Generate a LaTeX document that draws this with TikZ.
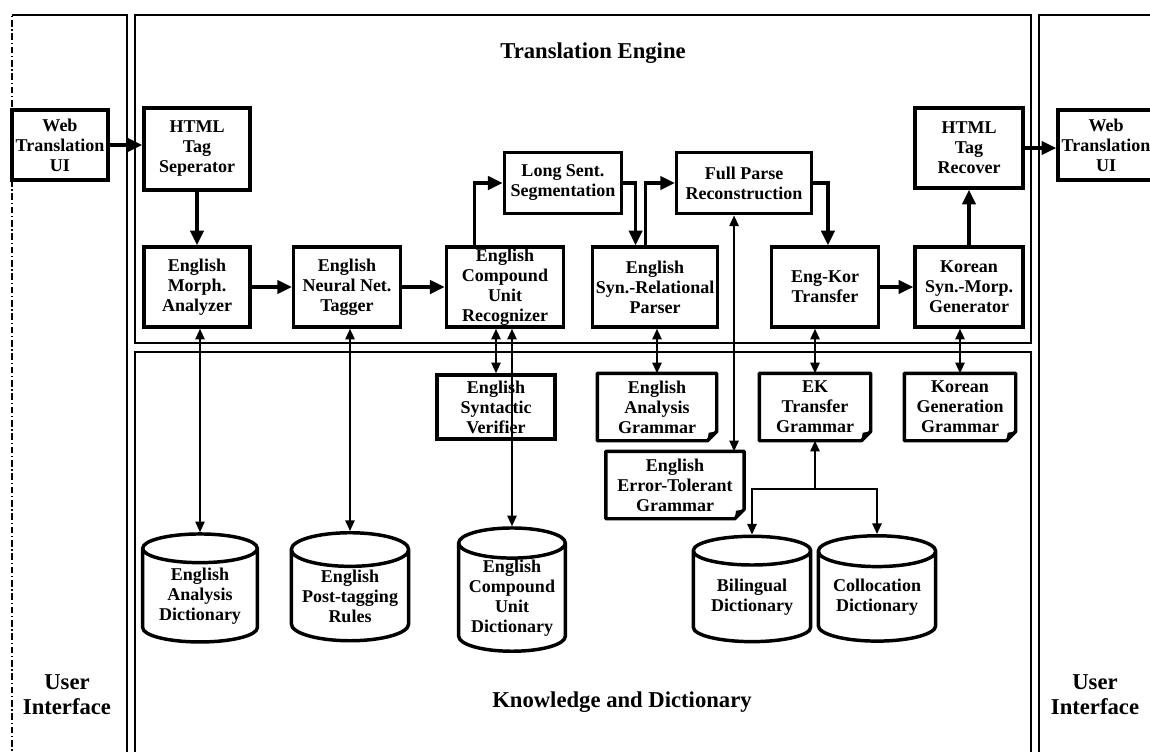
\documentclass[tikz,border=0pt]{standalone}
\usepackage{fontspec}
\setmainfont{Liberation Serif}
\usetikzlibrary{shapes.geometric,arrows.meta,calc}

\tikzset{
  doc/.style={draw=none,append after command={\pgfextra{%
    \draw[line width=2.6pt,line join=round]
      (\tikzlastnode.north west) -- (\tikzlastnode.north east)
      -- ([yshift=7pt]\tikzlastnode.south east)
      -- ([xshift=-7pt]\tikzlastnode.south east)
      -- (\tikzlastnode.south west) -- cycle;
    \fill ([yshift=7pt]\tikzlastnode.south east) -- ([xshift=-7pt]\tikzlastnode.south east)
      -- ([xshift=-6pt,yshift=6pt]\tikzlastnode.south east) -- cycle;}}}
}

\begin{document}
\begin{tikzpicture}[x=0.75pt,y=-0.75pt,
    box/.style={draw,line width=2.6pt,rectangle,inner sep=0pt,align=center,
      font=\fontsize{13.5}{15}\selectfont\bfseries},
    sz/.style 2 args={minimum width=#1pt,minimum height=#2pt},
    db/.style={cylinder,shape border rotate=90,aspect=0.35,draw,line width=2.6pt,
      inner sep=0pt,align=center,font=\fontsize{13.5}{15}\selectfont\bfseries},
    title/.style={font=\fontsize{17}{19}\selectfont\bfseries,align=center},
    panel/.style={line width=1.3pt},
    flow/.style={line width=2.4pt,-{Triangle[length=11pt,width=10pt]}},
    dict/.style={line width=1.3pt,{Triangle[length=8pt,width=7pt]}-{Triangle[length=8pt,width=7pt]}},
    dict1/.style={line width=1.3pt,-{Triangle[length=8pt,width=7pt]}}]

\useasboundingbox (0,0) rectangle (1150,751);

% panels
\draw[panel,dash pattern=on 5pt off 2pt on 1pt off 2pt] (12,760) -- (12,15);
\draw[panel] (12,15) -- (127,15) -- (127,760);
\draw[panel] (135,15) rectangle (1031,343);
\draw[panel] (135,760) -- (135,352) -- (1031,352) -- (1031,760);
\draw[panel] (1039,760) -- (1039,15) -- (1160,15);

\node[title] (te) at (593,53) {Translation Engine};
\node[title] (kd) at (622,702) {Knowledge and Dictionary};
\node[title] (uil) at (67,695) {User\\Interface};
\node[title] (uir) at (1095,695) {User\\Interface};

% translation engine
\node[box,sz={72}{52.5}] (webL) at (60,145) {Web\\Translation\\UI};
\node[box,sz={79.5}{61.5}] (sep) at (197,149) {HTML\\Tag\\Seperator};
\node[box,sz={79.5}{60}] (morph) at (197,287) {English\\Morph.\\Analyzer};
\node[box,sz={80}{60}] (tagger) at (347,287) {English\\Neural Net.\\Tagger};
\node[box,sz={88}{60}] (cur) at (505,287) {English\\Compound\\Unit\\Recognizer};
\node[box,sz={88}{46}] (seg) at (563,183) {Long Sent.\\Segmentation};
\node[box,sz={94}{60}] (parser) at (655,287) {English\\Syn.-Relational\\Parser};
\node[box,sz={101}{46}] (fpr) at (744,183) {Full Parse\\Reconstruction};
\node[box,sz={80}{60}] (ekt) at (825,287) {Eng-Kor\\Transfer};
\node[box,sz={81}{60}] (kgen) at (969,287) {Korean\\Syn.-Morp.\\Generator};
\node[box,sz={81}{60}] (rec) at (969,148) {HTML\\Tag\\Recover};
\node[box,sz={72}{52.5}] (webR) at (1106,145) {Web\\Translation\\UI};

\draw[flow] (webL.east) -- (webL.east -| sep.west);
\draw[flow] (sep.south) -- (morph.north);
\draw[flow] (morph.east) -- (tagger.west);
\draw[flow] (tagger.east) -- (cur.west);
\draw[flow] ($(cur.north west)+(30,0)$) |- (seg.west);
\draw[flow] (seg.east) -| ($(parser.north west)+(45,0)$);
\draw[flow] ($(parser.north west)+(55,0)$) |- (fpr.west);
\draw[flow] (fpr.east) -| ($(ekt.north west)+(58,0)$);
\draw[flow] (ekt.east) -- (kgen.west);
\draw[flow] (kgen.north) -- (rec.south);
\draw[flow] (rec.east) -- (rec.east -| webR.west);

% knowledge and dictionary
\node[box,sz={88.5}{48}] (ver) at (496,407) {English\\Syntactic\\Verifier};
\node[box,doc,sz={87}{48}] (eag) at (657,407) {English\\Analysis\\Grammar};
\node[box,doc,sz={81}{48}] (ekg) at (815,407) {EK\\Transfer\\Grammar};
\node[box,doc,sz={81}{48}] (kgg) at (960,407) {Korean\\Generation\\Grammar};
\node[box,doc,sz={101}{48}] (etg) at (675,485) {English\\Error-Tolerant\\Grammar};

\node[db,minimum width=86pt,minimum height=81pt] (ead) at (200,596) {English\\Analysis\\Dictionary};
\node[db,minimum width=88pt,minimum height=81pt] (ept) at (350,596) {English\\Post-tagging\\Rules};
\node[db,minimum width=80pt,minimum height=82pt] (cud) at (512,598) {English\\Compound\\Unit\\Dictionary};
\node[db,minimum width=88pt,minimum height=79pt] (bil) at (752,597) {Bilingual\\Dictionary};
\node[db,minimum width=88pt,minimum height=79pt] (col) at (877,597) {Collocation\\Dictionary};

\draw[dict] (ead.north |- morph.south) -- (ead.north);
\draw[dict] (ept.north |- tagger.south) -- (ept.north);
\draw[dict] (ver.north |- cur.south) -- (ver.north);
\draw[dict] (cud.north |- cur.south) -- (cud.north);
\draw[dict] (eag.north |- parser.south) -- (eag.north);
\coordinate (ftop) at ($(etg.north east)+(-10,0)$);
\draw[dict] (ftop |- fpr.south) -- (ftop);
\draw[dict] (ekg.north |- ekt.south) -- (ekg.north);
\draw[dict] (kgg.north |- kgen.south) -- (kgg.north);
\coordinate (jn) at (ekg.south |- 0,489);
\draw[dict1] (jn) -- (ekg.south);
\draw[dict1] (jn) -| (bil.north);
\draw[dict1] (jn) -| (col.north);

\end{tikzpicture}
\end{document}
